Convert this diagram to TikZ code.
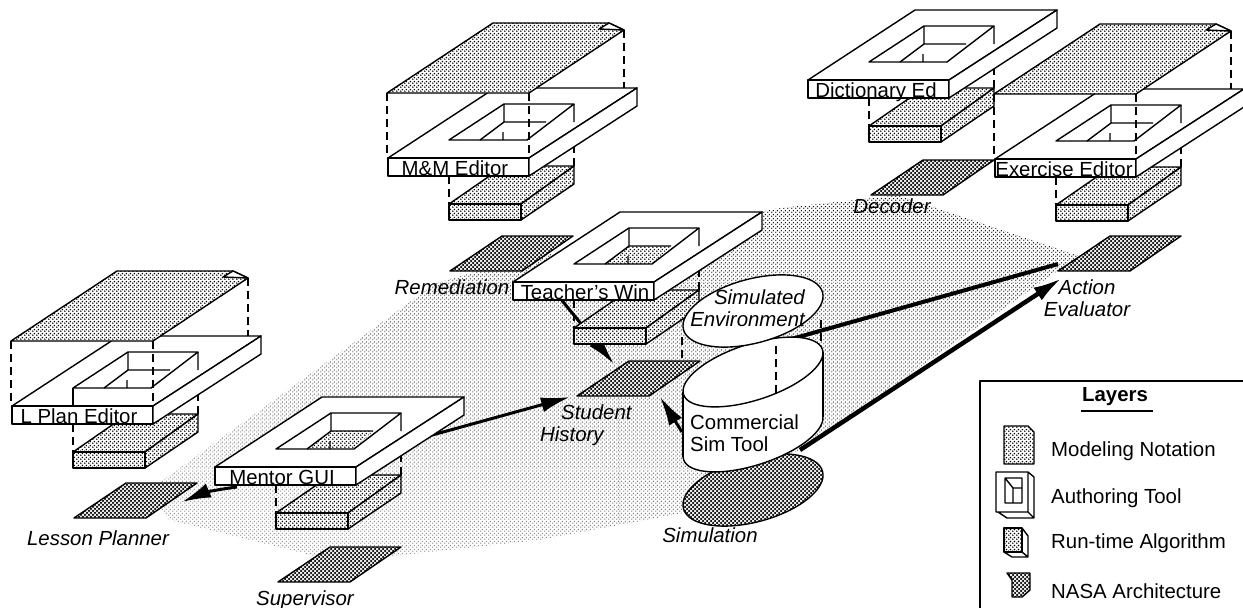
\documentclass[tikz,border=0pt]{standalone}
\usepackage{fontspec}
\setmainfont{Liberation Sans}
\usetikzlibrary{arrows.meta,patterns,fadings}
\pgfdeclarepatternformonly{ditherfloor}{\pgfqpoint{0pt}{0pt}}{\pgfqpoint{4pt}{4pt}}{\pgfqpoint{4pt}{4pt}}{%
\pgfpathcircle{\pgfqpoint{1pt}{1pt}}{0.9pt}\pgfpathcircle{\pgfqpoint{3pt}{3pt}}{0.9pt}\pgfusepath{fill}}
\pgfdeclarepatternformonly{ditherlight}{\pgfqpoint{0pt}{0pt}}{\pgfqpoint{4pt}{4pt}}{\pgfqpoint{4pt}{4pt}}{%
\pgfpathcircle{\pgfqpoint{1pt}{1pt}}{0.97pt}\pgfpathcircle{\pgfqpoint{3pt}{3pt}}{0.97pt}\pgfusepath{fill}}
\pgfdeclarepatternformonly{ditherdark}{\pgfqpoint{-1pt}{-1pt}}{\pgfqpoint{5pt}{5pt}}{\pgfqpoint{4pt}{4pt}}{%
\pgfpathcircle{\pgfqpoint{1pt}{1pt}}{1.25pt}\pgfpathcircle{\pgfqpoint{3pt}{3pt}}{1.25pt}\pgfusepath{fill}}
\tikzfading[name=stipplefade,top color=transparent!0,bottom color=transparent!55]
\begin{document}
\begin{tikzpicture}[x=1pt,y=-1pt,line join=round,font=\fontsize{20.4}{22}\selectfont,>={Latex[length=29pt,width=15pt]},
edge/.style={draw=black,line width=1.4pt},
lightface/.style={edge,preaction={fill=white},pattern=ditherlight},
darkface/.style={edge,preaction={fill=white},pattern=ditherdark},
whiteface/.style={edge,fill=white},
hidden/.style={draw=black,line width=1.4pt,dash pattern=on 8pt off 5pt},
flow/.style={line width=3pt,->},
holeshade/.style={fill=white},
toolname/.style={inner sep=0pt,anchor=base},
algname/.style={inner sep=0pt,font=\fontsize{20.4}{22}\selectfont\itshape},
legendname/.style={anchor=west,inner sep=0pt},
notesheet/.pic={
  \draw[lightface] (-1,-65)--(141,-65)--(236,-128)--(221,-135)--(105,-135)--cycle;
  \draw[whiteface] (221,-135)--(211,-129)--(236,-128)--cycle;
  \draw[hidden] (-1,-65)--(-1,0) (141,-65)--(141,0) (236,-128)--(236,-70);},
runbox/.pic={
  \draw[hidden] (61,18)--(61,46) (133,18)--(133,46) (186,-13)--(186,8);
  \draw[lightface] (61,46)--(116,8)--(186,8)--(133,46)--cycle;
  \draw[lightface] (133,46)--(186,8)--(186,26)--(133,62)--cycle;
  \draw[lightface] (61,46) rectangle (133,62);},
toolframe/.pic={
  \draw[whiteface] (0,0)--(107,-70)--(249,-70)--(141,0)--cycle;
  \draw[whiteface] (0,0) rectangle (141,18);
  \draw[whiteface] (141,0)--(249,-70)--(249,-52)--(141,18)--cycle;
  \fill[holeshade] (92,-18)--(116,-36)--(158,-36)--(139,-18)--cycle;
  \draw[edge] (61,-18)--(116,-54)--(186,-54)--(139,-18)--cycle;
  \draw[edge] (116,-54)--(116,-36)--(158,-36) (116,-36)--(92,-18) (186,-54)--(186,-36) (115,-26)--(115,-18);},
archsheet/.pic={
  \draw[darkface] (0,0)--(72,0)--(123,-35)--(52,-35)--cycle;}]
\useasboundingbox (0,0) rectangle (1243,608);
% stippled floor
\fill[pattern=ditherfloor,path fading=stipplefade,fading angle=-30] (150,490)--(437,283)--(510,262)--(780,208)--(900,195)--(1085,257)--(1060,270)--(817,440)--(700,510)--(540,540)--(340,562)--(170,520)--cycle;
% flows
\coordinate (mentoroutl) at (237,487);\coordinate (lessonin) at (182,502);
\coordinate (mentoroutr) at (425,437);\coordinate (studentinl) at (570,397);
\coordinate (teacherout) at (555,292);\coordinate (studentint) at (614,364);
\coordinate (simoutl) at (682,432);\coordinate (studentinr) at (660,397);
\coordinate (envout) at (770,345);\coordinate (actioninu) at (1058,264);
\coordinate (simoutr) at (800,450);\coordinate (actionind) at (1062,278);
\draw[flow] (mentoroutl) to[bend right=8] (lessonin);
\draw[flow] (mentoroutr)--(studentinl);
\draw[flow] (teacherout)--(studentint);
\draw[flow] (simoutl)--(studentinr);
\draw[line width=4pt] (envout)--(actioninu);
\draw[line width=4.5pt,->] (simoutr)--(actionind);
% architecture sheets
\pic at (74,518) {archsheet};
\pic at (278,582) {archsheet};
\pic at (450,271) {archsheet};
\pic at (871,195) {archsheet};
\pic at (1058,271) {archsheet};
\pic at (577,396) {archsheet};
% modules
\pic at (808,80) {runbox};\pic at (808,80) {toolframe};
\pic at (12,406) {runbox};\pic at (12,406) {toolframe};\pic at (12,406) {notesheet};
\draw[edge] (73,388)--(73,406);
\pic at (388,158) {runbox};\pic at (388,158) {toolframe};\pic at (388,158) {notesheet};
\pic at (995,159) {runbox};\pic at (995,159) {toolframe};\pic at (995,159) {notesheet};
\pic at (513,282) {runbox};\pic[holeshade/.style={pattern=ditherlight}] at (513,282) {toolframe};
\pic at (215,467) {runbox};\pic[holeshade/.style={pattern=ditherlight}] at (215,467) {toolframe};
% simulation stack
\draw[darkface] (753,490) ellipse [x radius=72pt,y radius=32pt,rotate=15];
\draw[hidden] (682,337)--(682,360) (821,320)--(821,407);
\draw[edge,fill=white] (753,437) ellipse [x radius=73pt,y radius=28pt,rotate=18];
\fill[white] (683,392)--(823,352)--(823,417)--(683,457)--cycle;
\draw[edge] (683,392)--(683,457) (823,352)--(823,417);
\draw[whiteface] (753,372) ellipse [x radius=73pt,y radius=28pt,rotate=18];
\draw[whiteface] (753,311) ellipse [x radius=72pt,y radius=32pt,rotate=15];
\draw[hidden] (776,346)--(776,393);
% names
\node[toolname] (lplan) at (79,423) {L Plan Editor};
\node[toolname] (mmeditor) at (455,175) {M\&M Editor};
\node[toolname] (dicted) at (876,97) {Dictionary Ed};
\node[toolname] (exeditor) at (1064,176) {Exercise Editor};
\node[toolname] (teacherwin) at (585,299) {Teacher's Win};
\node[toolname] (mentorgui) at (282,484) {Mentor GUI};
\node[algname] (lessonname) at (98,538) {Lesson Planner};
\node[algname] (supername) at (305,600) {Supervisor};
\node[algname] (remedname) at (452,287) {Remediation};
\node[algname] (decodername) at (892,206) {Decoder};
\node[algname,align=center] (actionname) at (1087,298) {Action\\Evaluator};
\node[algname,align=left,anchor=west] (studentname) at (540,425) {\hspace*{21pt}Student\\History};
\node[algname,align=right,anchor=east] (envname) at (805,308) {Simulated\\Environment};
\node[inner sep=0pt,align=left,anchor=west] (simtool) at (690,433) {Commercial\\Sim Tool};
\node[algname] (simname) at (710,535) {Simulation};
% legend
\draw[line width=1.4pt] (1243,381)--(980,381)--(980,608);
\node[inner sep=0pt,font=\fontsize{20.4}{22}\selectfont\bfseries] (layers) at (1115,397) {Layers};
\draw[line width=1.4pt] (1081,411)--(1153,411);
\draw[lightface] (1004,426)--(1028,426)--(1034,432)--(1034,464)--(1004,464)--cycle;
\node[legendname] (modeling) at (1051,451) {Modeling Notation};
\draw[edge] (996,472) rectangle (1028,512) (1028,472)--(1034,477)--(1034,518)--(1007,518)--(998,512) (1028,512)--(1034,518);
\draw[edge] (1005,478) rectangle (1022,503) (1005,478)--(1013,488)--(1022,488) (1013,488)--(1013,503);
\node[legendname] (authoring) at (1051,498) {Authoring Tool};
\draw[lightface] (1004,528)--(1022,528)--(1022,552)--(1004,552)--cycle;
\draw[edge] (1022,528)--(1028,536)--(1028,557)--(1012,557)--(1004,552) (1022,552)--(1028,557);
\node[legendname] (runtime) at (1051,543) {Run-time Algorithm};
\draw[darkface] (1007,573)--(1030,573)--(1030,590)--(1022,597)--(1012,597)--(1012,580)--cycle;
\node[legendname] (nasa) at (1051,591) {NASA Architecture};
\end{tikzpicture}
\end{document}
